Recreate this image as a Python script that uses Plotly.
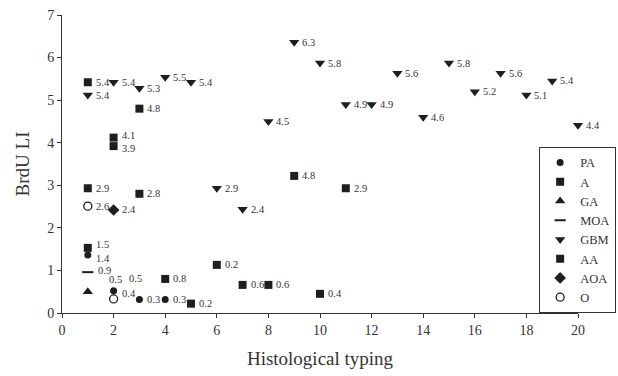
import plotly.graph_objects as go

# ---- data ----
pa_x = [1, 2, 3, 4]
pa_y = [1.36, 0.52, 0.32, 0.32]
pa_lab = ["1.4", "0.5", "0.3", "0.3"]

a_x = [1, 1, 1, 2, 2, 3, 3, 4, 5]
a_y = [5.42, 2.93, 1.53, 4.12, 3.92, 4.8, 2.8, 0.8, 0.22]
a_lab = ["5.4", "2.9", "1.5", "4.1", "3.9", "4.8", "2.8", "0.8", "0.2"]

ga_x = [1]
ga_y = [0.5]
ga_lab = ["0.5"]

moa_x = [1]
moa_y = [0.96]
moa_lab = ["0.9"]

gbm_x = [1, 2, 3, 4, 5, 6, 7, 8, 9, 10, 11, 12, 13, 14, 15, 16, 17, 18, 19, 20]
gbm_y = [5.12, 5.42, 5.28, 5.54, 5.42, 2.93, 2.44, 4.5, 6.36, 5.87, 4.9, 4.9,
         5.63, 4.6, 5.87, 5.2, 5.63, 5.12, 5.45, 4.41]
gbm_lab = ["5.4", "5.4", "5.3", "5.5", "5.4", "2.9", "2.4", "4.5", "6.3", "5.8",
           "4.9", "4.9", "5.6", "4.6", "5.8", "5.2", "5.6", "5.1", "5.4", "4.4"]

aa_x = [6, 7, 8, 9, 10, 11]
aa_y = [1.13, 0.66, 0.66, 3.22, 0.45, 2.93]
aa_lab = ["0.2", "0.6", "0.6", "4.8", "0.4", "2.9"]

aoa_x = [2]
aoa_y = [2.42]
aoa_lab = ["2.4"]

o_x = [1, 2]
o_y = [2.51, 0.33]
o_lab = ["2.6", "0.4"]

x_ticks = [0, 2, 4, 6, 8, 10, 12, 14, 16, 18, 20]
y_ticks = [0, 1, 2, 3, 4, 5, 6, 7]

FONT = "Liberation Serif"
INK = "#1e1e1e"
TXT = "#333333"

# label nudges (pixel offsets) for crowded labels: (series, index) -> (dx, dy)
NUDGE = {
    ("PA", 0): (6, -3),
    ("A", 2): (6, 3),
    ("A", 3): (6, 2),
    ("A", 4): (6, -2),
    ("MOA", 0): (8, 2),
    ("GA", 0): (19, 12),
    ("PA", 1): (13, 12),
    ("O", 1): (6, 5),
}

fig = go.Figure()
annotations = []


def add(name, xs, ys, labs, symbol, size, lw=0):
    marker = dict(symbol=symbol, size=size, color=INK,
                  line=dict(color=INK, width=lw))
    fig.add_trace(go.Scatter(x=xs, y=ys, mode="markers", name=name,
                             marker=marker, cliponaxis=False))
    for i, (xv, yv, t) in enumerate(zip(xs, ys, labs)):
        dx, dy = NUDGE.get((name, i), (6, 0))
        annotations.append(dict(
            x=xv, y=yv, text=t, showarrow=False, xanchor="left", yanchor="middle",
            xshift=dx, yshift=dy,
            font=dict(family=FONT, size=10.5, color=TXT)))


add("PA", pa_x, pa_y, pa_lab, "circle", 7)
add("A", a_x, a_y, a_lab, "square", 8)
add("GA", ga_x, ga_y, ga_lab, "triangle-up", 9)
add("MOA", moa_x, moa_y, moa_lab, "line-ew", 8, lw=2)
add("GBM", gbm_x, gbm_y, gbm_lab, "triangle-down", 9)
add("AA", aa_x, aa_y, aa_lab, "square", 8)
add("AOA", aoa_x, aoa_y, aoa_lab, "diamond", 9)
add("O", o_x, o_y, o_lab, "circle-open", 8, lw=1.3)

fig.update_layout(
    width=618, height=376,
    margin=dict(l=62, r=40, t=15, b=63, autoexpand=False),
    paper_bgcolor="white", plot_bgcolor="white",
    font=dict(family=FONT, color=TXT),
    annotations=annotations,
    showlegend=True,
    legend=dict(xref="container", yref="container",
                x=0.997, y=0.168, xanchor="right", yanchor="bottom",
                bordercolor="#333", borderwidth=1, bgcolor="white",
                font=dict(family=FONT, size=12.5, color=TXT),
                itemwidth=30, tracegroupgap=0,
                traceorder="normal"),
    xaxis=dict(range=[0, 20], tickvals=x_ticks, showgrid=False, zeroline=False,
               showline=True, linecolor="#333", linewidth=1,
               ticks="outside", ticklen=4, tickcolor="#333",
               tickfont=dict(family=FONT, size=14, color=TXT),
               title=dict(text="Histological typing", standoff=14,
                          font=dict(family=FONT, size=19, color=TXT))),
    yaxis=dict(range=[0, 7], tickvals=y_ticks, showgrid=False, zeroline=False,
               showline=True, linecolor="#333", linewidth=1,
               ticks="outside", ticklen=4, tickcolor="#333",
               tickfont=dict(family=FONT, size=14, color=TXT),
               title=dict(text="BrdU LI", standoff=12,
                          font=dict(family=FONT, size=19, color=TXT))),
)

fig.write_html("out.html")
